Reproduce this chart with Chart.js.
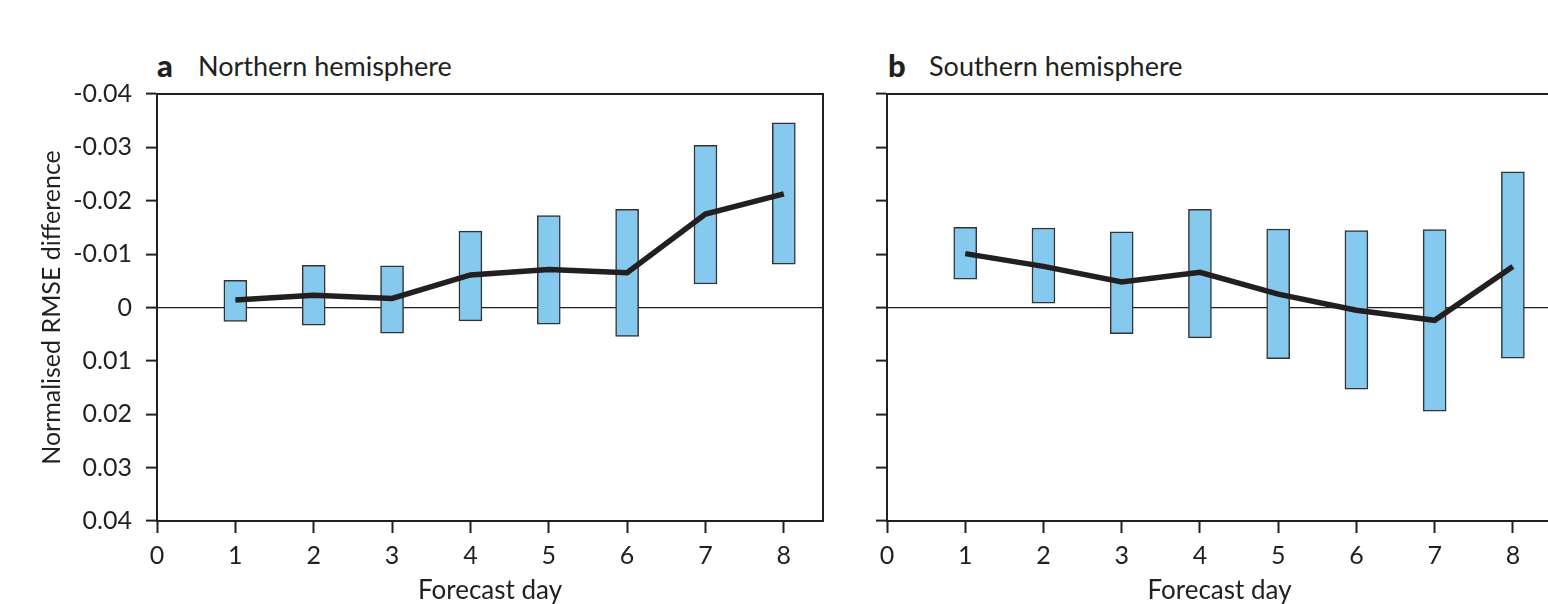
<!DOCTYPE html>
<html>
<head>
<meta charset="utf-8">
<script src="https://cdn.jsdelivr.net/npm/chart.js@4"></script>
<style>
  body { margin: 0; width: 1548px; height: 604px; overflow: hidden; background: #fff; position: relative; font-family: Lato, sans-serif; color: #231f20; }
  canvas { position: absolute; top: 0; }
  .head { position: absolute; top: 52px; font-size: 27px; line-height: 27px; white-space: nowrap; }
  .head b { font-weight: 900; font-size: 31px; }
</style>
</head>
<body>
<div class="head" style="left:157px"><b>a</b></div>
<div class="head" style="left:198px">Northern hemisphere</div>
<div class="head" style="left:888px"><b>b</b></div>
<div class="head" style="left:929px">Southern hemisphere</div>
<canvas id="nhChart" width="850" height="604" style="left:0"></canvas>
<canvas id="shChart" width="720" height="604" style="left:850px"></canvas>
<script>
// forecast days
const days = [1, 2, 3, 4, 5, 6, 7, 8];

// x ticks 0..8, y ticks from -0.04 to 0.04 (axis drawn reversed)
const xTickValues = [0, 1, 2, 3, 4, 5, 6, 7, 8];
const yTickValues = [-0.04, -0.03, -0.02, -0.01, 0, 0.01, 0.02, 0.03, 0.04];
const yTickLabels = ['-0.04', '-0.03', '-0.02', '-0.01', '0', '0.01', '0.02', '0.03', '0.04'];

// Northern hemisphere: bar ranges and mean line
const nhBarTop = [-0.0051, -0.0079, -0.0078, -0.0143, -0.0172, -0.0184, -0.0304, -0.0346];
const nhBarBottom = [0.0026, 0.0033, 0.0048, 0.0025, 0.0031, 0.0054, -0.0044, -0.0081];
const nhMean = [-0.0014, -0.0023, -0.0017, -0.0061, -0.0071, -0.0065, -0.0175, -0.0213];

// Southern hemisphere
const shBarTop = [-0.0150, -0.0149, -0.0142, -0.0184, -0.0147, -0.0144, -0.0146, -0.0254];
const shBarBottom = [-0.0053, -0.0008, 0.0049, 0.0057, 0.0096, 0.0153, 0.0194, 0.0095];
const shMean = [-0.0101, -0.0077, -0.0048, -0.0066, -0.0025, 0.0005, 0.0024, -0.0077];

const ink = '#231f20';
const font = 'Lato, sans-serif';

// top and right edge of the plot box
const framePlugin = {
    id: 'frame',
    afterDraw(chart) {
        const a = chart.chartArea;
        const ctx = chart.ctx;
        ctx.save();
        ctx.strokeStyle = ink;
        ctx.lineWidth = 2;
        ctx.beginPath();
        ctx.moveTo(a.left, a.top);
        ctx.lineTo(a.right, a.top);
        ctx.lineTo(a.right, a.bottom);
        ctx.stroke();
        ctx.restore();
    }
};

function yLabel(v) {
    for (let i = 0; i < yTickValues.length; i++) {
        if (Math.abs(yTickValues[i] - v) < 1e-9) return yTickLabels[i];
    }
    return '';
}

function makeChart(id, barTop, barBottom, mean, showLabels, yWidth, padRight) {
    let ctx = document.getElementById(id).getContext('2d');
    return new Chart(ctx, {
        type: 'bar',
        data: {
            datasets: [
                {
                    type: 'line',
                    data: days.map((d, i) => ({ x: d, y: mean[i] })),
                    borderColor: ink,
                    borderWidth: 5.5,
                    pointRadius: 0,
                    tension: 0,
                    order: 0
                },
                {
                    data: days.map((d, i) => ({ x: d, y: [barTop[i], barBottom[i]] })),
                    backgroundColor: '#85c9ee',
                    borderColor: '#333333',
                    borderWidth: 1.5,
                    borderSkipped: false,
                    barThickness: 23,
                    order: 1
                }
            ]
        },
        options: {
            responsive: false,
            animation: false,
            layout: { padding: { top: 94, right: padRight, left: 0, bottom: 0 } },
            plugins: { legend: { display: false }, tooltip: { enabled: false } },
            scales: {
                x: {
                    type: 'linear',
                    min: 0,
                    max: 8.5,
                    offset: false,
                    afterFit: s => { s.height = 83; },
                    afterBuildTicks: s => { s.ticks = xTickValues.map(v => ({ value: v })); },
                    ticks: { stepSize: 1, includeBounds: false, color: ink, padding: 8, font: { family: font, size: 25 } },
                    grid: { offset: false, drawOnChartArea: false, color: ink, tickLength: 12, tickWidth: 2 },
                    border: { color: ink, width: 2 },
                    title: {
                        display: true,
                        text: 'Forecast day',
                        color: ink,
                        font: { family: font, size: 26, lineHeight: 1 },
                        padding: { top: 0, bottom: 0 }
                    }
                },
                y: {
                    min: -0.04,
                    max: 0.04,
                    reverse: true,
                    afterFit: s => { s.width = yWidth; },
                    afterBuildTicks: s => { s.ticks = yTickValues.map(v => ({ value: v })); },
                    ticks: {
                        display: showLabels,
                        stepSize: 0.01,
                        color: ink,
                        padding: 14,
                        font: { family: font, size: 25 },
                        callback: v => yLabel(v)
                    },
                    grid: {
                        color: c => (c.tick && Math.abs(c.tick.value) < 1e-9) ? ink : 'rgba(0,0,0,0)',
                        lineWidth: 1.2,
                        tickColor: ink,
                        tickWidth: 2,
                        tickLength: 11
                    },
                    border: { color: ink, width: 2 },
                    title: {
                        display: showLabels,
                        text: 'Normalised RMSE difference',
                        color: ink,
                        font: { family: font, size: 25, lineHeight: 1 },
                        padding: { top: 39, bottom: 0 }
                    }
                }
            }
        },
        plugins: [framePlugin]
    });
}

makeChart('nhChart', nhBarTop, nhBarBottom, nhMean, true, 157, 27);
makeChart('shChart', shBarTop, shBarBottom, shMean, false, 37, 18);
</script>
</body>
</html>
